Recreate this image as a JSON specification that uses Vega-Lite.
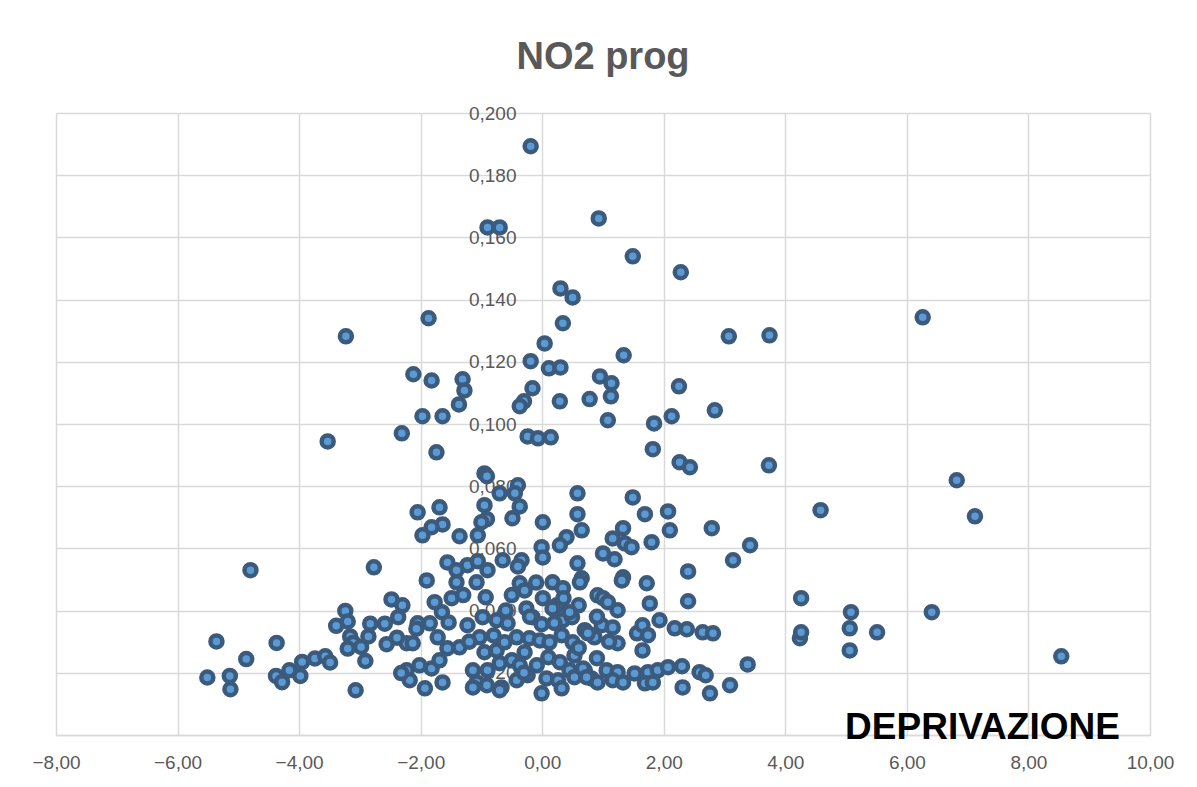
{
  "$schema": "https://vega.github.io/schema/vega-lite/v6.json",
  "width": 1094,
  "height": 622,
  "autosize": {"type": "none"},
  "padding": {"left": 56, "top": 113, "right": 47, "bottom": 52},
  "background": "white",
  "config": {"view": {"stroke": null}},
  "title": {
    "text": "NO2 prog",
    "font": "Liberation Sans",
    "fontSize": 38,
    "fontWeight": "bold",
    "color": "#595959",
    "anchor": "middle",
    "baseline": "alphabetic",
    "offset": -3
  },
  "data": {
    "values": [
      {"deprivazione": -0.19, "no2": 0.1893},
      {"deprivazione": -0.90, "no2": 0.1632},
      {"deprivazione": -0.70, "no2": 0.1632},
      {"deprivazione": 0.93, "no2": 0.1661},
      {"deprivazione": 1.49, "no2": 0.1539},
      {"deprivazione": 2.28, "no2": 0.1488},
      {"deprivazione": 0.30, "no2": 0.1436},
      {"deprivazione": 0.50, "no2": 0.1407},
      {"deprivazione": -1.87, "no2": 0.1340},
      {"deprivazione": 6.26, "no2": 0.1343},
      {"deprivazione": 0.34, "no2": 0.1324},
      {"deprivazione": -3.23, "no2": 0.1282},
      {"deprivazione": 3.07, "no2": 0.1282},
      {"deprivazione": 3.74, "no2": 0.1285},
      {"deprivazione": 0.04, "no2": 0.1259},
      {"deprivazione": 1.34, "no2": 0.1221},
      {"deprivazione": -0.19, "no2": 0.1202},
      {"deprivazione": 0.11, "no2": 0.1179},
      {"deprivazione": 0.30, "no2": 0.1182},
      {"deprivazione": -2.12, "no2": 0.1160},
      {"deprivazione": -1.82, "no2": 0.1140},
      {"deprivazione": -1.31, "no2": 0.1144},
      {"deprivazione": -1.28, "no2": 0.1108},
      {"deprivazione": 0.95, "no2": 0.1153},
      {"deprivazione": 1.14, "no2": 0.1131},
      {"deprivazione": 1.13, "no2": 0.1089},
      {"deprivazione": 2.25, "no2": 0.1121},
      {"deprivazione": -0.16, "no2": 0.1115},
      {"deprivazione": 0.78, "no2": 0.1080},
      {"deprivazione": 0.29, "no2": 0.1073},
      {"deprivazione": -0.30, "no2": 0.1073},
      {"deprivazione": -0.37, "no2": 0.1057},
      {"deprivazione": -1.37, "no2": 0.1063},
      {"deprivazione": 2.84, "no2": 0.1044},
      {"deprivazione": 2.13, "no2": 0.1025},
      {"deprivazione": -1.97, "no2": 0.1025},
      {"deprivazione": -1.64, "no2": 0.1025},
      {"deprivazione": 1.08, "no2": 0.1012},
      {"deprivazione": 1.84, "no2": 0.1002},
      {"deprivazione": -2.31, "no2": 0.0970},
      {"deprivazione": -0.24, "no2": 0.0960},
      {"deprivazione": -0.07, "no2": 0.0954},
      {"deprivazione": 0.14, "no2": 0.0957},
      {"deprivazione": -3.53, "no2": 0.0944},
      {"deprivazione": -1.74, "no2": 0.0909},
      {"deprivazione": 1.82, "no2": 0.0919},
      {"deprivazione": 2.26, "no2": 0.0877},
      {"deprivazione": 2.43, "no2": 0.0861},
      {"deprivazione": 3.73, "no2": 0.0867},
      {"deprivazione": -0.95, "no2": 0.0841},
      {"deprivazione": -0.91, "no2": 0.0832},
      {"deprivazione": 6.82, "no2": 0.0819},
      {"deprivazione": -0.40, "no2": 0.0803},
      {"deprivazione": -0.70, "no2": 0.0777},
      {"deprivazione": -0.45, "no2": 0.0777},
      {"deprivazione": 0.58, "no2": 0.0777},
      {"deprivazione": 1.49, "no2": 0.0764},
      {"deprivazione": -0.95, "no2": 0.0739},
      {"deprivazione": -0.37, "no2": 0.0735},
      {"deprivazione": -1.69, "no2": 0.0732},
      {"deprivazione": -2.05, "no2": 0.0716},
      {"deprivazione": 2.07, "no2": 0.0719},
      {"deprivazione": 4.58, "no2": 0.0723},
      {"deprivazione": 1.69, "no2": 0.0710},
      {"deprivazione": 0.58, "no2": 0.0710},
      {"deprivazione": 7.12, "no2": 0.0703},
      {"deprivazione": -0.49, "no2": 0.0697},
      {"deprivazione": -0.91, "no2": 0.0694},
      {"deprivazione": -1.00, "no2": 0.0684},
      {"deprivazione": 0.01, "no2": 0.0684},
      {"deprivazione": -1.64, "no2": 0.0677},
      {"deprivazione": -1.82, "no2": 0.0668},
      {"deprivazione": 1.33, "no2": 0.0665},
      {"deprivazione": 2.10, "no2": 0.0658},
      {"deprivazione": 2.79, "no2": 0.0665},
      {"deprivazione": 0.65, "no2": 0.0658},
      {"deprivazione": -1.97, "no2": 0.0642},
      {"deprivazione": -1.36, "no2": 0.0639},
      {"deprivazione": -1.06, "no2": 0.0642},
      {"deprivazione": 1.16, "no2": 0.0632},
      {"deprivazione": 0.40, "no2": 0.0636},
      {"deprivazione": 1.80, "no2": 0.0620},
      {"deprivazione": 1.36, "no2": 0.0616},
      {"deprivazione": 1.47, "no2": 0.0604},
      {"deprivazione": 0.29, "no2": 0.0610},
      {"deprivazione": -0.01, "no2": 0.0604},
      {"deprivazione": 3.42, "no2": 0.0610},
      {"deprivazione": 0.01, "no2": 0.0571},
      {"deprivazione": 1.00, "no2": 0.0584},
      {"deprivazione": 1.19, "no2": 0.0565},
      {"deprivazione": 3.14, "no2": 0.0562},
      {"deprivazione": 0.58, "no2": 0.0552},
      {"deprivazione": -1.56, "no2": 0.0555},
      {"deprivazione": -1.23, "no2": 0.0546},
      {"deprivazione": -1.06, "no2": 0.0559},
      {"deprivazione": -0.65, "no2": 0.0562},
      {"deprivazione": -0.34, "no2": 0.0562},
      {"deprivazione": -0.40, "no2": 0.0542},
      {"deprivazione": -1.41, "no2": 0.0530},
      {"deprivazione": -0.90, "no2": 0.0530},
      {"deprivazione": -4.80, "no2": 0.0530},
      {"deprivazione": -2.77, "no2": 0.0539},
      {"deprivazione": 2.40, "no2": 0.0526},
      {"deprivazione": 1.33, "no2": 0.0507},
      {"deprivazione": 0.65, "no2": 0.0504},
      {"deprivazione": -1.90, "no2": 0.0497},
      {"deprivazione": -1.41, "no2": 0.0491},
      {"deprivazione": -1.08, "no2": 0.0491},
      {"deprivazione": -0.37, "no2": 0.0488},
      {"deprivazione": 0.17, "no2": 0.0491},
      {"deprivazione": 1.72, "no2": 0.0488},
      {"deprivazione": -0.29, "no2": 0.0465},
      {"deprivazione": 0.34, "no2": 0.0472},
      {"deprivazione": 0.62, "no2": 0.0491},
      {"deprivazione": 1.31, "no2": 0.0497},
      {"deprivazione": -2.30, "no2": 0.0417},
      {"deprivazione": -1.77, "no2": 0.0427},
      {"deprivazione": -1.49, "no2": 0.0440},
      {"deprivazione": -0.93, "no2": 0.0443},
      {"deprivazione": 0.01, "no2": 0.0440},
      {"deprivazione": 0.24, "no2": 0.0417},
      {"deprivazione": 0.60, "no2": 0.0417},
      {"deprivazione": 0.91, "no2": 0.0449},
      {"deprivazione": -2.05, "no2": 0.0359},
      {"deprivazione": -1.85, "no2": 0.0359},
      {"deprivazione": -1.65, "no2": 0.0395},
      {"deprivazione": -1.54, "no2": 0.0362},
      {"deprivazione": -1.23, "no2": 0.0353},
      {"deprivazione": -0.98, "no2": 0.0379},
      {"deprivazione": -0.75, "no2": 0.0369},
      {"deprivazione": -0.57, "no2": 0.0359},
      {"deprivazione": -0.26, "no2": 0.0407},
      {"deprivazione": -0.16, "no2": 0.0379},
      {"deprivazione": -0.01, "no2": 0.0356},
      {"deprivazione": 0.17, "no2": 0.0407},
      {"deprivazione": 0.34, "no2": 0.0369},
      {"deprivazione": 0.49, "no2": 0.0379},
      {"deprivazione": 0.70, "no2": 0.0337},
      {"deprivazione": 0.83, "no2": 0.0321},
      {"deprivazione": -2.23, "no2": 0.0295},
      {"deprivazione": -2.13, "no2": 0.0295},
      {"deprivazione": -1.72, "no2": 0.0314},
      {"deprivazione": -1.56, "no2": 0.0279},
      {"deprivazione": -1.36, "no2": 0.0282},
      {"deprivazione": -1.03, "no2": 0.0314},
      {"deprivazione": -0.95, "no2": 0.0266},
      {"deprivazione": -0.75, "no2": 0.0272},
      {"deprivazione": -0.62, "no2": 0.0298},
      {"deprivazione": -0.42, "no2": 0.0314},
      {"deprivazione": -0.21, "no2": 0.0311},
      {"deprivazione": -0.29, "no2": 0.0266},
      {"deprivazione": -0.04, "no2": 0.0304},
      {"deprivazione": 0.12, "no2": 0.0298},
      {"deprivazione": 0.32, "no2": 0.0321},
      {"deprivazione": 0.50, "no2": 0.0298},
      {"deprivazione": 0.53, "no2": 0.0256},
      {"deprivazione": 0.86, "no2": 0.0314},
      {"deprivazione": -2.23, "no2": 0.0208},
      {"deprivazione": -2.02, "no2": 0.0224},
      {"deprivazione": -1.82, "no2": 0.0214},
      {"deprivazione": -1.69, "no2": 0.0240},
      {"deprivazione": -1.14, "no2": 0.0208},
      {"deprivazione": -0.90, "no2": 0.0208},
      {"deprivazione": -0.70, "no2": 0.0231},
      {"deprivazione": -0.50, "no2": 0.0240},
      {"deprivazione": -0.37, "no2": 0.0224},
      {"deprivazione": -0.09, "no2": 0.0224},
      {"deprivazione": 0.29, "no2": 0.0234},
      {"deprivazione": 0.45, "no2": 0.0208},
      {"deprivazione": 0.70, "no2": 0.0208},
      {"deprivazione": 0.90, "no2": 0.0247},
      {"deprivazione": -2.18, "no2": 0.0176},
      {"deprivazione": -1.93, "no2": 0.0150},
      {"deprivazione": -1.64, "no2": 0.0169},
      {"deprivazione": -1.08, "no2": 0.0169},
      {"deprivazione": -0.91, "no2": 0.0160},
      {"deprivazione": -0.67, "no2": 0.0153},
      {"deprivazione": -0.42, "no2": 0.0176},
      {"deprivazione": -0.24, "no2": 0.0192},
      {"deprivazione": 0.07, "no2": 0.0182},
      {"deprivazione": 0.26, "no2": 0.0176},
      {"deprivazione": 0.32, "no2": 0.0150},
      {"deprivazione": 0.53, "no2": 0.0186},
      {"deprivazione": 0.81, "no2": 0.0182},
      {"deprivazione": -0.01, "no2": 0.0134},
      {"deprivazione": -1.14, "no2": 0.0153},
      {"deprivazione": -0.70, "no2": 0.0144},
      {"deprivazione": 1.00, "no2": 0.0440},
      {"deprivazione": 1.08, "no2": 0.0427},
      {"deprivazione": 1.24, "no2": 0.0401},
      {"deprivazione": 1.77, "no2": 0.0423},
      {"deprivazione": 2.40, "no2": 0.0430},
      {"deprivazione": 0.45, "no2": 0.0395},
      {"deprivazione": 0.75, "no2": 0.0327},
      {"deprivazione": 0.98, "no2": 0.0353},
      {"deprivazione": 1.16, "no2": 0.0346},
      {"deprivazione": 1.24, "no2": 0.0295},
      {"deprivazione": 1.56, "no2": 0.0327},
      {"deprivazione": 1.65, "no2": 0.0353},
      {"deprivazione": 1.74, "no2": 0.0321},
      {"deprivazione": 1.93, "no2": 0.0369},
      {"deprivazione": 2.18, "no2": 0.0343},
      {"deprivazione": 2.38, "no2": 0.0340},
      {"deprivazione": 2.64, "no2": 0.0330},
      {"deprivazione": 2.81, "no2": 0.0327},
      {"deprivazione": 1.65, "no2": 0.0272},
      {"deprivazione": 0.67, "no2": 0.0214},
      {"deprivazione": 1.06, "no2": 0.0208},
      {"deprivazione": 1.24, "no2": 0.0202},
      {"deprivazione": 1.52, "no2": 0.0198},
      {"deprivazione": 1.74, "no2": 0.0202},
      {"deprivazione": 1.90, "no2": 0.0208},
      {"deprivazione": 2.07, "no2": 0.0218},
      {"deprivazione": 2.30, "no2": 0.0221},
      {"deprivazione": 2.59, "no2": 0.0202},
      {"deprivazione": 2.69, "no2": 0.0192},
      {"deprivazione": 3.38, "no2": 0.0227},
      {"deprivazione": 0.73, "no2": 0.0186},
      {"deprivazione": 0.91, "no2": 0.0169},
      {"deprivazione": 1.16, "no2": 0.0176},
      {"deprivazione": 1.33, "no2": 0.0169},
      {"deprivazione": 1.69, "no2": 0.0166},
      {"deprivazione": 1.82, "no2": 0.0169},
      {"deprivazione": 2.31, "no2": 0.0153},
      {"deprivazione": 2.76, "no2": 0.0134},
      {"deprivazione": 3.09, "no2": 0.0160},
      {"deprivazione": -2.48, "no2": 0.0436},
      {"deprivazione": -2.37, "no2": 0.0379},
      {"deprivazione": -3.24, "no2": 0.0399},
      {"deprivazione": -3.20, "no2": 0.0365},
      {"deprivazione": -3.39, "no2": 0.0351},
      {"deprivazione": -2.83, "no2": 0.0358},
      {"deprivazione": -2.59, "no2": 0.0358},
      {"deprivazione": -2.07, "no2": 0.0342},
      {"deprivazione": -3.16, "no2": 0.0317},
      {"deprivazione": -2.86, "no2": 0.0317},
      {"deprivazione": -2.39, "no2": 0.0313},
      {"deprivazione": -3.11, "no2": 0.0296},
      {"deprivazione": -2.98, "no2": 0.0283},
      {"deprivazione": -2.56, "no2": 0.0292},
      {"deprivazione": -3.20, "no2": 0.0278},
      {"deprivazione": -2.91, "no2": 0.0238},
      {"deprivazione": -5.36, "no2": 0.0301},
      {"deprivazione": -4.37, "no2": 0.0296},
      {"deprivazione": -4.87, "no2": 0.0244},
      {"deprivazione": -5.51, "no2": 0.0185},
      {"deprivazione": -5.14, "no2": 0.0190},
      {"deprivazione": -5.13, "no2": 0.0147},
      {"deprivazione": -4.38, "no2": 0.0190},
      {"deprivazione": -4.28, "no2": 0.0170},
      {"deprivazione": -4.16, "no2": 0.0208},
      {"deprivazione": -3.98, "no2": 0.0190},
      {"deprivazione": -3.95, "no2": 0.0235},
      {"deprivazione": -3.74, "no2": 0.0246},
      {"deprivazione": -3.57, "no2": 0.0253},
      {"deprivazione": -3.49, "no2": 0.0233},
      {"deprivazione": -3.07, "no2": 0.0144},
      {"deprivazione": -2.32, "no2": 0.0199},
      {"deprivazione": 4.24, "no2": 0.0311},
      {"deprivazione": 4.26, "no2": 0.0330},
      {"deprivazione": 4.26, "no2": 0.0440},
      {"deprivazione": 5.08, "no2": 0.0395},
      {"deprivazione": 5.06, "no2": 0.0343},
      {"deprivazione": 5.51, "no2": 0.0330},
      {"deprivazione": 5.06, "no2": 0.0272},
      {"deprivazione": 6.41, "no2": 0.0395},
      {"deprivazione": 8.54, "no2": 0.0253},
      {"deprivazione": -0.50, "no2": 0.0450},
      {"deprivazione": -0.20, "no2": 0.0380},
      {"deprivazione": 0.20, "no2": 0.0360},
      {"deprivazione": -0.80, "no2": 0.0320},
      {"deprivazione": 0.60, "no2": 0.0280},
      {"deprivazione": -0.30, "no2": 0.0200},
      {"deprivazione": 0.10, "no2": 0.0250},
      {"deprivazione": -1.20, "no2": 0.0300},
      {"deprivazione": 0.90, "no2": 0.0380},
      {"deprivazione": -0.60, "no2": 0.0400},
      {"deprivazione": 0.35, "no2": 0.0440},
      {"deprivazione": -1.30, "no2": 0.0450},
      {"deprivazione": 1.10, "no2": 0.0300},
      {"deprivazione": -0.10, "no2": 0.0490}
    ]
  },
  "mark": {
    "type": "point",
    "shape": "circle",
    "filled": true,
    "fill": "#5b9bd5",
    "stroke": "#3b5a7c",
    "strokeWidth": 4.5,
    "size": 144,
    "opacity": 1
  },
  "encoding": {
    "x": {
      "field": "deprivazione",
      "type": "quantitative",
      "scale": {"domain": [-8, 10], "nice": false, "zero": false},
      "axis": {
        "values": [-8, -6, -4, -2, 0, 2, 4, 6, 8, 10],
        "labelExpr": "replace(format(datum.value, '.2f'), '.', ',')",
        "labelFont": "Liberation Sans",
        "labelFontSize": 19,
        "labelColor": "#595959",
        "labelPadding": 18,
        "ticks": false,
        "domainColor": "#d9d9d9",
        "domainWidth": 1.5,
        "gridColor": "#d9d9d9",
        "gridWidth": 1.5,
        "title": "DEPRIVAZIONE",
        "titleFont": "Liberation Sans",
        "titleFontSize": 37,
        "titleFontWeight": "bold",
        "titleColor": "#000000",
        "titleX": 926,
        "titleY": 3,
        "titleAlign": "center",
        "titleBaseline": "alphabetic",
        "labelFlush": false,
        "labelOverlap": false
      }
    },
    "y": {
      "field": "no2",
      "type": "quantitative",
      "scale": {"domain": [0, 0.2], "nice": false, "zero": false},
      "axis": {
        "values": [0, 0.02, 0.04, 0.06, 0.08, 0.1, 0.12, 0.14, 0.16, 0.18, 0.2],
        "labelExpr": "datum.value == 0 ? '' : replace(format(datum.value, '.3f'), '.', ',')",
        "labelFont": "Liberation Sans",
        "labelFontSize": 19,
        "labelColor": "#595959",
        "labelPadding": 26,
        "offset": -486,
        "ticks": false,
        "domain": false,
        "gridColor": "#d9d9d9",
        "gridWidth": 1.5,
        "title": null,
        "labelFlush": false,
        "labelOverlap": false
      }
    }
  }
}
